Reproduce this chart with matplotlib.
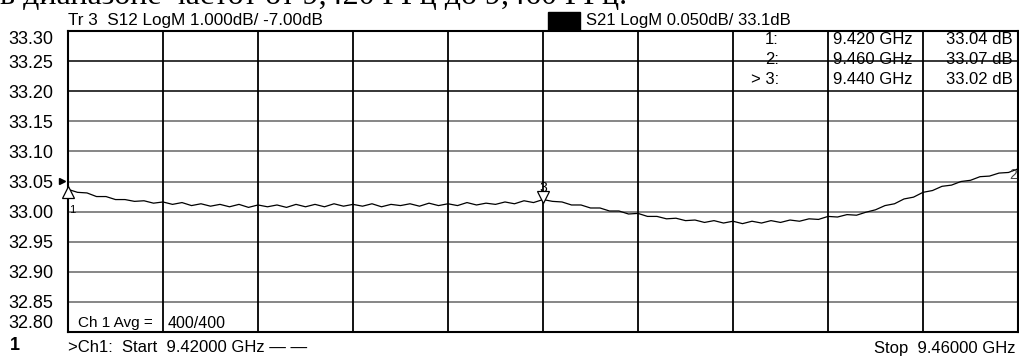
import numpy as np
import matplotlib
matplotlib.use("Agg")
import matplotlib.pyplot as plt

# S21 trace, 101 points from 9.420 to 9.460 GHz
s21_db = [33.037, 33.032, 33.031, 33.025, 33.025, 33.020, 33.020, 33.017, 33.018, 33.014,
          33.016, 33.012, 33.015, 33.010, 33.013, 33.009, 33.012, 33.008, 33.012, 33.007,
          33.011, 33.008, 33.011, 33.007, 33.012, 33.008, 33.012, 33.008, 33.013, 33.009,
          33.012, 33.009, 33.013, 33.008, 33.012, 33.010, 33.013, 33.009, 33.014, 33.010,
          33.013, 33.010, 33.015, 33.011, 33.014, 33.012, 33.016, 33.013, 33.018, 33.015,
          33.020, 33.017, 33.016, 33.011, 33.011, 33.006, 33.006, 33.001, 33.001, 32.996,
          32.997, 32.992, 32.992, 32.988, 32.989, 32.985, 32.986, 32.982, 32.985, 32.981,
          32.984, 32.980, 32.984, 32.981, 32.985, 32.982, 32.986, 32.984, 32.988, 32.987,
          32.992, 32.991, 32.995, 32.994, 32.999, 33.003, 33.010, 33.013, 33.021, 33.024,
          33.032, 33.035, 33.042, 33.044, 33.050, 33.052, 33.058, 33.059, 33.064, 33.065,
          33.071]
f_start, f_stop = 9.42, 9.46
freq = np.linspace(f_start, f_stop, len(s21_db))

y_ticks = [33.30, 33.25, 33.20, 33.15, 33.10, 33.05, 33.00, 32.95, 32.90, 32.85, 32.80]
marker_rows = [("1:", "9.420 GHz", "33.04 dB"),
               ("2:", "9.460 GHz", "33.07 dB"),
               ("> 3:", "9.440 GHz", "33.02 dB")]

W, H = 1019, 356
plt.rcParams['font.family'] = ['Liberation Sans', 'DejaVu Sans']
fig = plt.figure(figsize=(W / 100, H / 100), dpi=100)

def px(x, y):
    return x / W, 1 - y / H

ax = fig.add_axes([68 / W, 1 - 332 / H, 950 / W, 301 / H])
ax.set_xlim(f_start, f_stop)
ax.set_ylim(32.80, 33.30)

for v in y_ticks[1:-1]:
    c = 'black' if v >= 33.20 else '#666666'
    ax.axhline(v, color=c, lw=1.1, zorder=1)
for f in np.linspace(f_start, f_stop, 11)[1:-1]:
    ax.axvline(f, color='black', lw=1.3, zorder=1)
for s in ax.spines.values():
    s.set_linewidth(1.5)

ax.set_xticks([])
ax.set_yticks(y_ticks)
ax.set_yticklabels(["%.2f" % v for v in y_ticks])
ax.tick_params(axis='y', length=0, pad=10.5, labelsize=13)
labs = ax.get_yticklabels()
labs[0].set_va('top')
labs[-1].set_va('bottom')

ax.plot(freq, s21_db, color='black', lw=0.9, zorder=3, clip_on=False)

# markers
ax.plot(f_start, s21_db[0] - 0.004, marker='^', ms=8, mfc='white', mec='black', mew=0.9,
        clip_on=False, zorder=4)
ax.text(f_start + 0.00005, 33.002, "1", fontsize=8, va='center', ha='left')
m3 = freq[50]
ax.plot(m3, s21_db[50] + 0.005, marker='v', ms=8, mfc='white', mec='black', mew=0.9,
        zorder=4)
ax.text(m3, s21_db[50] + 0.019, "3", fontsize=10, va='center', ha='center')
ax.text(f_stop - 0.00003, s21_db[100] - 0.011, "2", fontsize=10, va='center', ha='right',
        color='#444444')
fig.lines.append(plt.Line2D([px(62, 0)[0]], [px(0, 181)[1]], marker='>', ms=5,
                            color='black', transform=fig.transFigure))

# marker table
fs = 12
for r, (a, b, c) in enumerate(marker_rows):
    y = 40 + 20 * r
    fig.text(*px(779, y), a, fontsize=fs, ha='right', va='center')
    fig.text(*px(833, y), b, fontsize=fs, ha='left', va='center')
    fig.text(*px(1013, y), c, fontsize=fs, ha='right', va='center')

fig.text(*px(78, 323), "Ch 1 Avg =", fontsize=11, ha='left', va='center')
fig.text(*px(168, 323), "400/400", fontsize=11.5, ha='left', va='center')

# headers
fig.text(*px(68, 20), "Tr 3  S12 LogM 1.000dB/ -7.00dB", fontsize=12.3, ha='left', va='center')
fig.patches.append(plt.Rectangle(px(548, 30), 32 / W, 18 / H, transform=fig.transFigure,
                                 color='black'))
fig.text(*px(586, 20), "S21 LogM 0.050dB/ 33.1dB", fontsize=12, ha='left', va='center')

# footer
fig.text(*px(10, 346), "1", fontsize=13, fontweight='bold', ha='left', va='center')
fig.text(*px(68, 348), ">Ch1:  Start  9.42000 GHz \u2014 \u2014", fontsize=12,
         ha='left', va='center')
fig.text(*px(1015, 348), "Stop  9.46000 GHz", fontsize=12, ha='right', va='center')

# cut-off line of document text above the screenshot
fig.text(*px(0, 4), "в диапазоне частот от 9,420 ГГц до 9,460 ГГц.", fontsize=23,
         family='Liberation Serif', ha='left', va='baseline')

fig.savefig("out.png", dpi=100)
